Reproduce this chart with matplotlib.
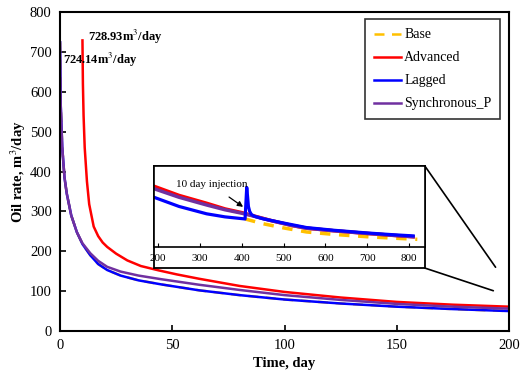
import matplotlib.pyplot as plt
from matplotlib.patches import Rectangle, ConnectionPatch

plt.rcParams["font.family"] = ["Liberation Serif", "DejaVu Serif"]
plt.rcParams["mathtext.fontset"] = "stix"

# main chart, 0-200 days
t_sync = [0, 0.3, 1, 2, 3, 5, 7.5, 10, 13.5, 17, 21, 27, 35, 45, 62, 80, 100, 125, 150, 175, 200]
q_sync = [724.14, 570, 460, 385, 345, 290, 248, 220, 195, 176, 161, 149, 139, 130, 116, 103, 90, 78, 68, 61, 56]

t_lag = [0, 0.3, 1, 2, 3, 5, 7.5, 10, 13.5, 17, 21, 27, 35, 45, 62, 80, 100, 125, 150, 175, 200]
q_lag = [724.14, 570, 460, 385, 345, 290, 248, 218, 190, 168, 153, 139, 127, 117, 102, 90, 79, 69, 61, 55, 50]

t_base = t_lag
q_base = q_lag

t_adv = [10, 10.2, 10.5, 11, 12, 13, 15, 17, 19, 21, 25, 30, 36, 44, 52, 62, 80, 100, 125, 150, 175, 200]
q_adv = [728.93, 620, 540, 460, 375, 318, 262, 238, 222, 211, 194, 177, 163, 152, 142, 131, 113, 98, 84, 73, 66, 61]

# inset, 190-820 days
ti_adv = [190, 250, 316, 360, 400, 430, 470, 520, 555, 620, 700, 760, 810]
qi_adv = [60.5, 53, 46.6, 42, 39, 36.2, 32.5, 28.5, 26.3, 24.2, 22, 20.5, 19.3]
ti_sync = [190, 250, 316, 360, 400, 430, 470, 520, 555, 620, 700, 760, 810]
qi_sync = [58.5, 51.5, 45.2, 41.3, 38.5, 36, 32.5, 28.5, 26.3, 24.2, 22, 20.5, 19.3]
ti_lag = [190, 250, 316, 360, 408, 412, 414, 416, 419, 423, 430, 450, 500, 555, 620, 700, 760, 810]
qi_lag = [51.5, 44, 38, 35.5, 33.8, 59.5, 52, 44, 40, 37.5, 36, 34, 30.5, 26.8, 24.6, 22.4, 21, 20]
ti_base = [408, 450, 500, 555, 620, 700, 760, 820]
qi_base = [33.8, 30, 26.5, 23.2, 21.2, 19.3, 18.2, 17.2]

labels = ["Base", "Advanced", "Lagged", "Synchronous_P"]
colors = ["#FFC000", "#FF0000", "#0000FF", "#7030A0"]

fig = plt.figure(figsize=(5.2, 3.77), dpi=100)
ax = fig.add_axes([0.1154, 0.122, 0.8635, 0.846])

ax.plot(t_base, q_base, color=colors[0], lw=1.8, ls=(0, (4, 3)), label=labels[0])
ax.plot(t_adv, q_adv, color=colors[1], lw=1.8, label=labels[1])
ax.plot(t_lag, q_lag, color=colors[2], lw=1.8, label=labels[2])
ax.plot(t_sync, q_sync, color=colors[3], lw=1.8, label=labels[3])

ax.set_xlim(0, 200)
ax.set_ylim(0, 800)
ax.set_xticks([0, 50, 100, 150, 200])
ax.set_yticks(range(0, 801, 100))
ax.tick_params(direction="in", labelsize=10.5, width=1.2, length=4, pad=6)
for s in ax.spines.values():
    s.set_linewidth(1.5)
ax.set_xlabel("Time, day", fontsize=10.5, fontweight="bold", labelpad=3)
ax.set_ylabel("Oil rate, m$^3$/day", fontsize=10.5, fontweight="bold", labelpad=1)

ax.text(12.5, 737, "728.93m$^3$/day", fontsize=9, fontweight="bold", va="center")
ax.text(1.2, 680, "724.14m$^3$/day", fontsize=9, fontweight="bold", va="center")

leg = ax.legend(loc="upper right", bbox_to_anchor=(0.981, 0.977), borderaxespad=0,
                fontsize=10, frameon=True, fancybox=False, edgecolor="black",
                handlelength=2.0, handletextpad=0.2, labelspacing=0.72,
                borderpad=0.65)
leg.get_frame().set_linewidth(1.2)

# inset frame + axes
box = Rectangle((0.296, 0.289), 0.521, 0.2708, transform=fig.transFigure,
                facecolor="white", edgecolor="black", lw=1.3, zorder=3)
fig.add_artist(box)
ins = fig.add_axes([0.296, 0.345, 0.521, 0.2148])
ins.set_zorder(4)
ins.plot(ti_base, qi_base, color=colors[0], lw=2.5, ls=(0, (3, 2.5)))
ins.plot(ti_adv, qi_adv, color=colors[1], lw=2.5)
ins.plot(ti_sync, qi_sync, color=colors[3], lw=2.5)
ins.plot(ti_lag, qi_lag, color=colors[2], lw=2.3)
ins.set_xlim(190, 838)
ins.set_ylim(11, 77)
ins.set_xticks(range(200, 801, 100))
ins.set_yticks([])
ins.tick_params(axis="x", direction="in", labelsize=8, length=3, pad=5)
for s in ins.spines.values():
    s.set_linewidth(1.2)
ins.annotate("10 day injection", xy=(406, 43), xytext=(243, 61.5), fontsize=8,
             va="center",
             arrowprops=dict(arrowstyle="-|>", color="black", lw=0.9, mutation_scale=8,
                             shrinkA=6, shrinkB=1))

# zoom lines from the inset box to the main chart
for fy, pt in [(0.5597, (194, 160)), (0.289, (193, 101))]:
    con = ConnectionPatch(xyA=(0.817, fy), coordsA=fig.transFigure,
                          xyB=pt, coordsB=ax.transData, color="black", lw=1.2, zorder=5)
    fig.add_artist(con)

fig.savefig("out.png", dpi=100)
